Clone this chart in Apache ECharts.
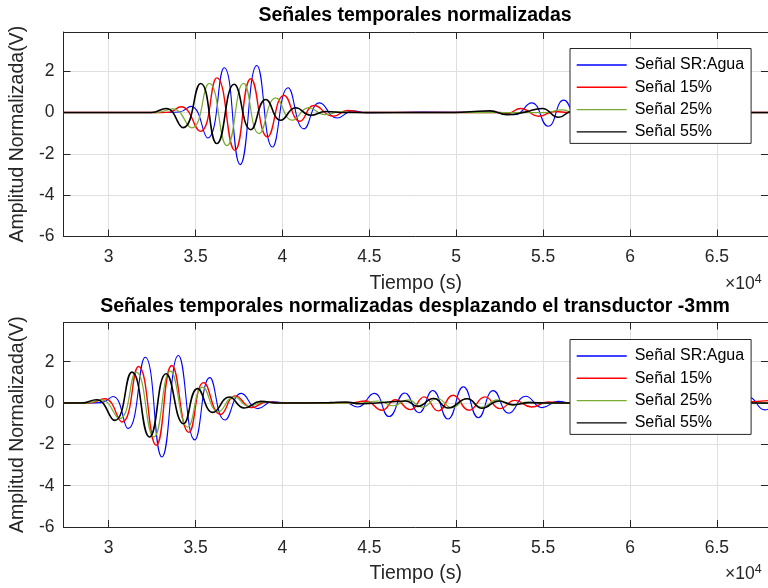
<!DOCTYPE html>
<html><head><meta charset="utf-8">
<script src="https://cdn.jsdelivr.net/npm/echarts@6/dist/echarts.min.js"></script>
<style>html,body{margin:0;padding:0;background:#fff}#c{width:768px;height:588px}</style>
</head><body><div id="c"></div>
<script>
// ---------- data ----------
const seriesNames = ['Señal SR:Agua', 'Señal 15%', 'Señal 25%', 'Señal 55%'];
const xTickValues = [30000, 35000, 40000, 45000, 50000, 55000, 60000, 65000];
const yTickValues = [-6, -4, -2, 0, 2];
const titles = ['Señales temporales normalizadas', 'Señales temporales normalizadas desplazando el transductor -3mm'];

// top subplot  [time, amplitude]
const topAgua = [[27400,0],[33021,0],[34054,0.03],[34742,0.3],[35699,-1.23],[36651,2.17],[37568,-2.52],[38526,2.28],[39426,-1.67],[40321,1.2],[41238,-0.79],[42138,0.47],[43154,-0.26],[44031,0.08],[44948,-0.02],[47930,0.02],[52517,0],[53377,-0.1],[54334,0.47],[55287,-0.66],[56187,0.6],[57104,-0.45],[58021,0.3],[58939,-0.15],[59971,0.05],[61691,0],[67940,0]];
const top15 = [[27400,0],[33021,0],[33480,0.02],[34168,0.28],[35275,-0.91],[36232,1.68],[37265,-1.83],[38182,1.64],[39140,-1.18],[40092,0.83],[41009,-0.42],[41812,0.34],[42924,-0.18],[43744,0.1],[44604,0],[52517,0],[52976,-0.03],[53704,0.2],[54753,-0.18],[55671,0.05],[56531,0],[67940,0]];
const top25 = [[27400,0],[32735,0],[33692,0.18],[34782,-0.74],[35791,1.41],[36806,-1.6],[37764,1.41],[38658,-1.02],[39616,0.71],[40573,-0.37],[41508,0.24],[42425,-0.1],[43343,0.03],[44489,0],[55097,0],[56072,0.13],[56818,0],[67940,0]];
const top55 = [[27400,0],[32448,0],[33308,0.2],[34283,-0.73],[35298,1.41],[36232,-1.5],[37224,1.37],[38182,-0.83],[39042,0.63],[39902,-0.37],[40762,0.23],[41622,-0.13],[42483,0.05],[43629,0],[49500,0],[50797,0.04],[51943,0.08],[52918,-0.1],[53950,0.02],[54943,0.2],[55901,-0.23],[56646,0.05],[57679,0],[67940,0]];

// bottom subplot  [time, amplitude]
const botAgua = [[27400,0],[28721,0],[29581,0.02],[30252,0.32],[31112,-1.24],[32104,2.22],[33062,-2.61],[34013,2.3],[34954,-1.78],[35820,1.23],[36691,-0.82],[37637,0.47],[38583,-0.27],[39443,0.06],[40476,0],[43629,0.02],[44317,-0.19],[45281,0.47],[46135,-0.65],[47041,0.49],[47855,-0.47],[48647,0.61],[49524,-0.77],[50412,0.79],[51273,-0.71],[52132,0.6],[53033,-0.49],[53997,0.33],[54954,-0.22],[55843,0.08],[56818,-0.03],[58251,0],[64500,0],[65822,-0.15],[66796,0.3],[67769,-0.33],[67940,-0.3]];
const bot15 = [[27400,0],[28893,0],[29770,0.21],[30768,-0.92],[31720,1.77],[32735,-2.04],[33635,1.82],[34616,-1.42],[35470,0.99],[36439,-0.55],[37293,0.35],[38228,-0.22],[39099,0.05],[40189,0],[43916,0],[44776,0.1],[45734,-0.35],[46496,0.16],[47356,-0.32],[48159,0.3],[48962,-0.38],[49822,0.38],[50739,-0.35],[51657,0.3],[52517,-0.27],[53377,0.13],[54334,-0.19],[55269,0.05],[56244,0],[66000,0],[66852,0.05],[67940,0.12]];
const bot25 = [[27400,0],[28721,0],[29581,0.15],[30630,-0.75],[31588,1.5],[32603,-1.64],[33555,1.55],[34552,-1.16],[35413,0.77],[36307,-0.42],[37207,0.3],[38085,-0.15],[38927,0.05],[39902,0],[44489,0],[45522,0.1],[46382,-0.13],[47242,0.15],[48044,-0.2],[48905,0.22],[49765,-0.22],[50625,0.22],[51485,-0.2],[52345,0.15],[53205,-0.1],[54065,0.05],[55097,0],[67940,0]];
const bot55 = [[27400,0],[28434,0],[29294,0.16],[30344,-0.84],[31341,1.5],[32351,-1.64],[33308,1.42],[34312,-1.0],[35114,0.7],[36003,-0.45],[36938,0.29],[37798,-0.24],[38755,0.08],[39788,0],[42769,0.02],[43629,0.05],[44489,-0.03],[46096,0.05],[47110,0.1],[47775,-0.16],[48693,0.22],[49535,-0.24],[50625,0.21],[51485,-0.25],[52460,0.1],[53262,-0.08],[54237,0.02],[55384,0],[67940,0]];

const topData = [topAgua, top15, top25, top55];
const botData = [botAgua, bot15, bot25, bot55];

// ---------- style ----------
const FONT = '"Liberation Sans", Arial, Helvetica, sans-serif';
const AX = '#262626';
const GRIDC = '#dfdfdf';
const colors = ['#0000ff', '#ff0000', '#77ac30', '#000000'];
const widths = [1.1, 1.4, 1.2, 1.6];
const legendWidths = [1.4, 1.4, 1.3, 1.4];
const X_MIN = 27400, X_MAX = 67940, Y_MIN = -6, Y_MAX = 3.9;
const grids = [
  { left: 62, top: 32, width: 707, height: 204.5 },
  { left: 62, top: 322.5, width: 707, height: 204.5 }
];

const chart = echarts.init(document.getElementById('c'), null, { renderer: 'canvas' });

const xAxes = [], yAxes = [], series = [], legends = [], titleOpts = [], graphics = [];
grids.forEach((g, gi) => {
  const base = {
    gridIndex: gi, type: 'value', min: X_MIN, max: X_MAX,
    axisLine: { show: true, onZero: false, lineStyle: { color: AX, width: 1 } },
    axisTick: { show: true, inside: true, length: 7, customValues: xTickValues, lineStyle: { color: AX } }
  };
  xAxes.push(Object.assign({}, base, {
    position: 'bottom',
    name: 'Tiempo (s)', nameLocation: 'middle', nameGap: 37,
    nameTextStyle: { fontSize: 19.5, color: AX, fontFamily: FONT },
    axisLabel: { show: true, customValues: xTickValues, margin: 12, fontSize: 17.5, color: AX, fontFamily: FONT,
      formatter: v => String(v / 10000) },
    splitLine: { show: true, lineStyle: { color: GRIDC, width: 1 } }
  }));
  xAxes.push(Object.assign({}, base, {
    position: 'top', axisLabel: { show: false }, splitLine: { show: false }
  }));
  const ybase = {
    gridIndex: gi, type: 'value', min: Y_MIN, max: Y_MAX,
    axisLine: { show: true, onZero: false, lineStyle: { color: AX, width: 1 } },
    axisTick: { show: true, inside: true, length: 7, customValues: yTickValues, lineStyle: { color: AX } }
  };
  yAxes.push(Object.assign({}, ybase, {
    position: 'left',
    name: 'Amplitud Normalizada(V)', nameLocation: 'middle', nameGap: 27,
    nameTextStyle: { fontSize: 19.5, color: AX, fontFamily: FONT },
    axisLabel: { show: true, customValues: yTickValues, margin: 9, fontSize: 17.5, color: AX, fontFamily: FONT },
    splitLine: { show: true, lineStyle: { color: GRIDC, width: 1 } }
  }));
  yAxes.push(Object.assign({}, ybase, {
    position: 'right', axisLabel: { show: false }, splitLine: { show: false }
  }));

  const dataSet = gi === 0 ? topData : botData;
  seriesNames.forEach((n, si) => {
    series.push({
      name: n, type: 'line', xAxisIndex: gi * 2, yAxisIndex: gi * 2,
      data: dataSet[si], smooth: 0.5, symbol: 'none', showSymbol: false,
      lineStyle: { color: colors[si], width: widths[si] }, itemStyle: { color: colors[si] },
      z: 2, animation: false
    });
  });

  legends.push({
    orient: 'vertical', left: 570, top: gi === 0 ? 48.5 : 339.5, z: 50,
    data: seriesNames.map((n, i) => ({
      name: n,
      itemStyle: { color: colors[i], opacity: 0 },
      lineStyle: { color: colors[i], width: legendWidths[i], opacity: 1 }
    })),
    itemWidth: 50, itemHeight: 14, itemGap: 6.3,
    padding: [8.5, 7, 3.5, 6], borderColor: AX, borderWidth: 1, borderRadius: 0, backgroundColor: '#ffffff',
    textStyle: { fontSize: 16, color: '#000', fontFamily: FONT, padding: [0, 0, 0, 3] },
    selectedMode: false
  });

  titleOpts.push({
    text: titles[gi], left: 415, top: gi === 0 ? 6 : 296.5, textAlign: 'center', padding: 0,
    textStyle: { fontSize: 19.5, fontWeight: 'bold', color: '#000', fontFamily: FONT }
  });

  graphics.push({
    type: 'text', left: 725, top: gi === 0 ? 273 : 563.5, z: 10,
    style: {
      text: '{a|×10}{b|4}',
      rich: {
        a: { fontSize: 17.5, fill: AX, fontFamily: FONT, verticalAlign: 'bottom' },
        b: { fontSize: 12.5, fill: AX, fontFamily: FONT, verticalAlign: 'bottom', padding: [0, 0, 7, 0] }
      }
    }
  });
});

chart.setOption({
  animation: false,
  backgroundColor: '#ffffff',
  title: titleOpts,
  grid: grids.map(g => Object.assign({ containLabel: false, show: false }, g)),
  xAxis: xAxes,
  yAxis: yAxes,
  legend: legends,
  series: series,
  graphic: graphics
});
</script></body></html>
